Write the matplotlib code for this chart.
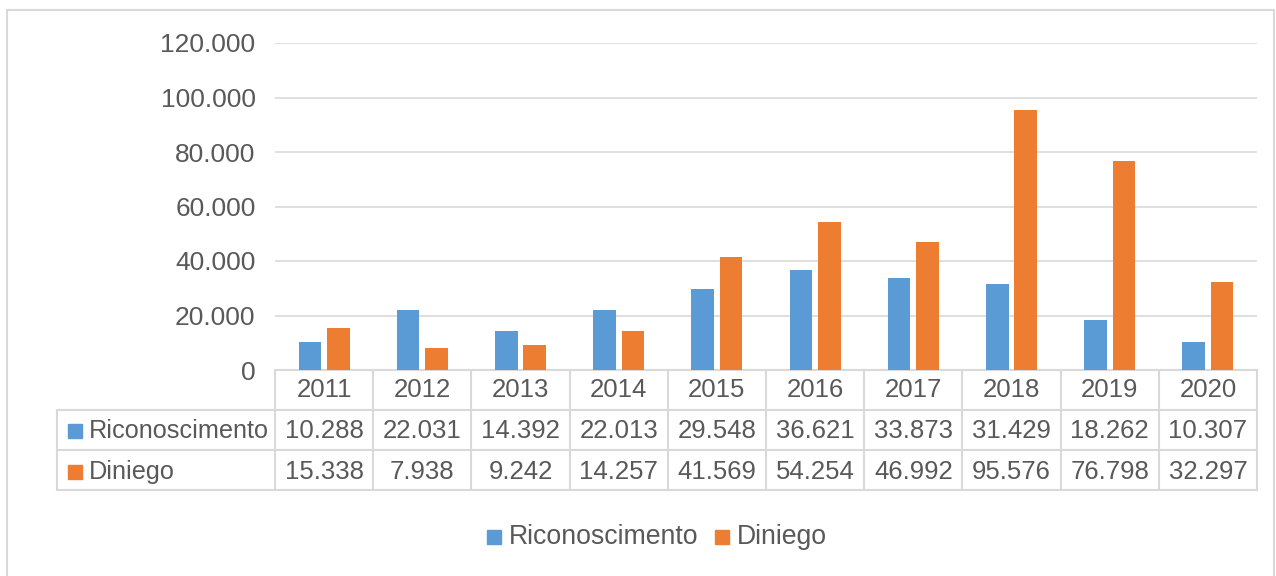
import matplotlib
matplotlib.use("Agg")
import matplotlib.pyplot as plt
import numpy as np
from matplotlib.patches import Rectangle
from matplotlib.transforms import blended_transform_factory

years = ["2011", "2012", "2013", "2014", "2015", "2016", "2017", "2018", "2019", "2020"]
riconoscimento = [10288, 22031, 14392, 22013, 29548, 36621, 33873, 31429, 18262, 10307]
diniego = [15338, 7938, 9242, 14257, 41569, 54254, 46992, 95576, 76798, 32297]
series_names = ["Riconoscimento", "Diniego"]

BLUE = "#5B9BD5"
ORANGE = "#ED7D31"
TEXT = "#595959"
GRID = "#D9D9D9"
W, H = 1276, 576

plt.rcParams["font.family"] = ["Liberation Sans", "DejaVu Sans"]

fig = plt.figure(figsize=(W / 100, H / 100), dpi=100)


def fx(px):
    return px / W


def fy(py):
    return 1 - py / H


# outer chart border
fig.patches.append(Rectangle((fx(7), fy(590)), fx(1274) - fx(7), fy(10) - fy(590),
                             transform=fig.transFigure, fill=False, edgecolor=GRID, lw=1.5))

ax = fig.add_axes([fx(275), fy(370), fx(1257) - fx(275), fy(43) - fy(370)])
x = np.arange(len(years))
bw = 0.23
ax.bar(x - 0.145, riconoscimento, bw, color=BLUE, zorder=3)
ax.bar(x + 0.145, diniego, bw, color=ORANGE, zorder=3)
ax.set_xlim(-0.5, len(years) - 0.5)
ax.set_ylim(0, 120000)
ax.set_yticks(range(0, 120001, 20000))
ax.yaxis.set_major_formatter(lambda v, p: f"{int(v):,}".replace(",", "."))
ax.grid(axis="y", color=GRID, lw=1.2, zorder=0)
for s in ax.spines.values():
    s.set_visible(False)
ax.tick_params(axis="y", length=0, pad=14, labelsize=19, labelcolor=TEXT)
ax.tick_params(axis="x", length=0, labelbottom=False)

# data table under the axis
tr = blended_transform_factory(ax.transData, fig.transFigure)
lw = 1.5
ax.plot([-0.5, len(years) - 0.5], [fy(370), fy(370)], transform=tr, color=GRID, lw=lw, clip_on=False)
for yy in (410, 450, 490):
    fig.add_artist(plt.Line2D([fx(57), fx(1257)], [fy(yy), fy(yy)], color=GRID, lw=lw))
fig.add_artist(plt.Line2D([fx(57), fx(57)], [fy(410), fy(490)], color=GRID, lw=lw))
for i in range(len(years) + 1):
    ax.plot([i - 0.5, i - 0.5], [fy(370), fy(490)], transform=tr, color=GRID, lw=lw, clip_on=False)

for i, yr in enumerate(years):
    ax.text(i, fy(390), yr, transform=tr, ha="center", va="center", fontsize=18.5, color=TEXT)
    ax.text(i, fy(431), f"{riconoscimento[i]:,}".replace(",", "."), transform=tr,
            ha="center", va="center", fontsize=18.5, color=TEXT)
    ax.text(i, fy(472), f"{diniego[i]:,}".replace(",", "."), transform=tr,
            ha="center", va="center", fontsize=18.5, color=TEXT)

for name, col, yy in zip(series_names, (BLUE, ORANGE), (431, 472)):
    fig.patches.append(Rectangle((fx(68), fy(yy + 7)), fx(14), 14 / H, transform=fig.transFigure,
                                 color=col))
    fig.text(fx(89), fy(yy), name, ha="left", va="center", fontsize=18.2, color=TEXT)

# legend
for name, col, sx in zip(series_names, (BLUE, ORANGE), (487, 715)):
    fig.patches.append(Rectangle((fx(sx), fy(544)), fx(14), 14 / H, transform=fig.transFigure,
                                 color=col))
    fig.text(fx(sx + 22), fy(537), name, ha="left", va="center", fontsize=19.2, color=TEXT)

fig.savefig("out.png", dpi=100)
